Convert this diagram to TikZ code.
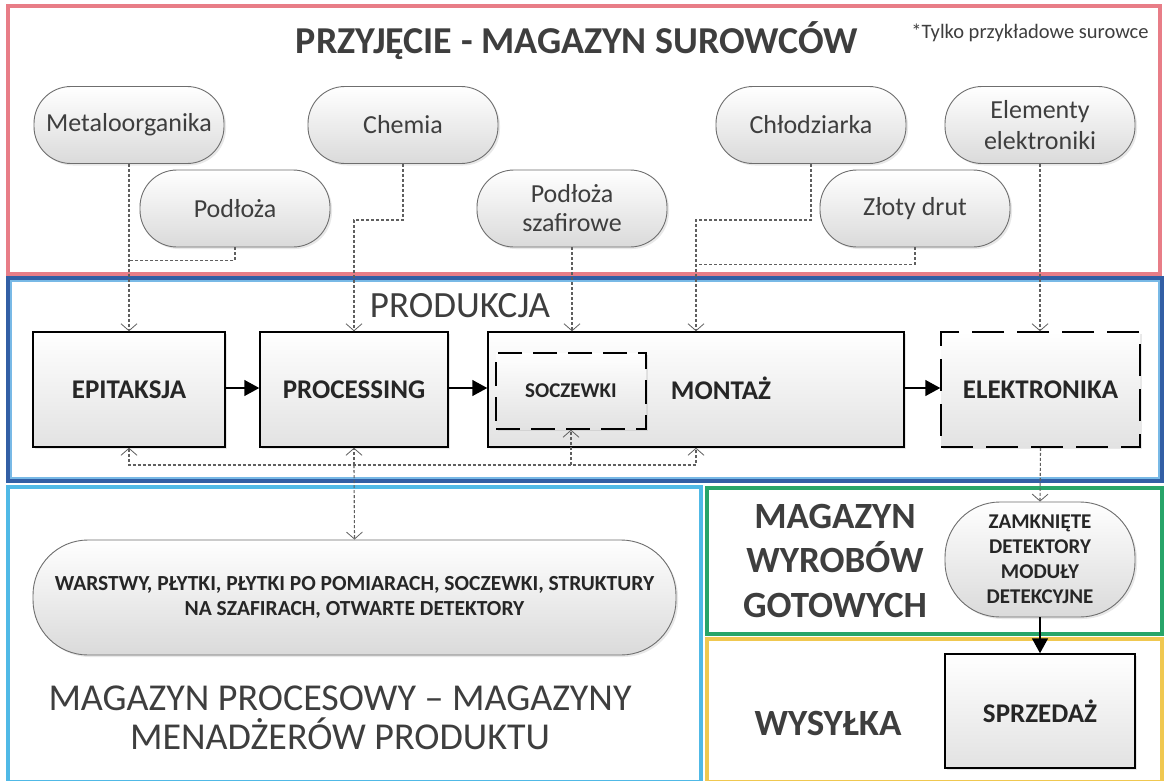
\documentclass[tikz,border=0pt]{standalone}
\usepackage{fontspec}
\setmainfont{Carlito}
\usetikzlibrary{arrows.meta,shadows,calc}

\definecolor{pillline}{RGB}{110,110,110}
\definecolor{pillbot}{RGB}{218,218,218}
\definecolor{boxbot}{RGB}{226,226,226}
\definecolor{titlegray}{RGB}{62,62,62}
\definecolor{boxtext}{RGB}{38,38,38}
\definecolor{linkgray}{RGB}{95,95,95}
\definecolor{framered}{RGB}{232,125,135}
\definecolor{frameblue}{RGB}{50,95,165}
\definecolor{frameblueIn}{RGB}{120,185,230}
\definecolor{framecyan}{RGB}{80,185,230}
\definecolor{framegreen}{RGB}{40,165,105}
\definecolor{frameyellow}{RGB}{240,200,80}

\tikzset{
  frame/.style={line width=3.5pt},
  pill/.style={draw=pillline, line width=0.9pt, rounded corners=37pt,
    top color=white, bottom color=pillbot,
    minimum width=190pt, minimum height=77pt, align=center,
    text=titlegray, font=\fontsize{26}{31}\selectfont,
    drop shadow={shadow xshift=2pt, shadow yshift=-2pt, opacity=0.18}},
  stagebox/.style={draw=black, line width=1.5pt,
    top color=white, bottom color=boxbot,
    minimum height=115pt, align=center,
    font=\bfseries\fontsize{27}{32}\selectfont, text=boxtext,
    drop shadow={shadow xshift=2pt, shadow yshift=-2pt, opacity=0.18}},
  dashbox/.style={stagebox, dash pattern=on 32pt off 13pt},
  link/.style={draw=linkgray, line width=1.1pt, dash pattern=on 3pt off 2pt},
  feed/.style={link, -{Straight Barb[length=7pt, width=16pt, line width=0.8pt]}},
  flow/.style={draw=black, line width=1.5pt, -{Triangle[length=15pt, width=16pt]}},
  title/.style={text=titlegray, anchor=base, inner sep=0pt},
}

\begin{document}
\begin{tikzpicture}[x=1pt, y=-1pt]
\useasboundingbox (0,0) rectangle (1167,780);
\fill[white] (0,0) rectangle (1167,780);

% section frames
\draw[frame, draw=framered] (8,6) rectangle (1160,274);
\draw[frame, draw=frameblue] (8,278) rectangle (1162,481);
\draw[line width=1.2pt, draw=frameblueIn] (11,281) rectangle (1159,478);
\draw[frame, draw=framecyan] (8,487) rectangle (701,782);
\draw[frame, draw=framegreen] (707,488) rectangle (1162,634);
\draw[frame, draw=frameyellow] (707,639) rectangle (1162,782);

% section titles
\node[title, font=\bfseries\fontsize{38}{44}\selectfont] (tRaw) at (577,53) {PRZYJĘCIE - MAGAZYN SUROWCÓW};
\node[title, font=\fontsize{20.5}{24}\selectfont] (tNote) at (1030,38) {*Tylko przykładowe surowce};
\node[title, font=\fontsize{37}{44}\selectfont] (tProd) at (460,317) {PRODUKCJA};
\node[title, font=\fontsize{38}{44}\selectfont] (tProcA) at (340,710) {MAGAZYN PROCESOWY – MAGAZYNY};
\node[title, font=\fontsize{38}{44}\selectfont] (tProcB) at (340,749) {MENADŻERÓW PRODUKTU};
\node[title, font=\bfseries\fontsize{37}{44}\selectfont] (tGoodA) at (835,528) {MAGAZYN};
\node[title, font=\bfseries\fontsize{37}{44}\selectfont] (tGoodB) at (835,572) {WYROBÓW};
\node[title, font=\bfseries\fontsize{37}{44}\selectfont] (tGoodC) at (835,617) {GOTOWYCH};
\node[title, font=\bfseries\fontsize{37}{44}\selectfont] (tShip) at (828,735) {WYSYŁKA};

% raw materials
\node[pill] (meta) at (129,125) {Metaloorganika};
\node[pill] (chem) at (403,125) {Chemia};
\node[pill] (chl)  at (811,125) {Chłodziarka};
\node[pill, font=\fontsize{26}{31}\selectfont] (elem) at (1040,125) {Elementy\\elektroniki};
\node[pill] (pod)  at (235,208.5) {Podłoża};
\node[pill, font=\fontsize{26}{29}\selectfont] (szaf) at (572,208.5) {Podłoża\\szafirowe};
\node[pill] (zloty) at (915,208.5) {Złoty drut};

% production stages
\node[stagebox, minimum width=192pt] (epi)  at (129,389.5) {EPITAKSJA};
\node[stagebox, minimum width=188pt] (proc) at (354,389.5) {PROCESSING};
\node[stagebox, minimum width=416pt] (mont) at (696,389.5) {};
\node[dashbox, minimum width=150pt, minimum height=76pt, dash pattern=on 24pt off 11pt,
      font=\bfseries\fontsize{21}{25}\selectfont] (socz) at (571,391) {SOCZEWKI};
\node[font=\bfseries\fontsize{27}{32}\selectfont, text=boxtext] (montT) at (721,388) {MONTAŻ};
\node[dashbox, minimum width=199pt] (elek) at (1040.5,389.5) {ELEKTRONIKA};

% stores
\node[pill, rounded corners=55pt, minimum width=643pt, minimum height=115pt,
      font=\bfseries\fontsize{21.5}{25}\selectfont, text=boxtext] (warst) at (354.5,597.5)
      {WARSTWY, PŁYTKI, PŁYTKI PO POMIARACH, SOCZEWKI, STRUKTURY\\NA SZAFIRACH, OTWARTE DETEKTORY};
\node[pill, rounded corners=55pt, minimum height=115pt,
      font=\bfseries\fontsize{21}{25}\selectfont, text=boxtext] (zamk) at (1040,559.5)
      {ZAMKNIĘTE\\DETEKTORY\\MODUŁY\\DETEKCYJNE};
\node[stagebox, minimum width=190pt, minimum height=114pt] (sprz) at (1040,711) {SPRZEDAŻ};

% supply lines (junctions where two supplies merge)
\coordinate (mj) at ($(meta.south)+(0,96.5)$);
\coordinate (zj) at ($(mont.north)+(0,-67)$);
\draw[feed] (meta.south) -- (meta.south |- epi.north);
\draw[link] (pod.south) |- (mj);
\draw[feed] (chem.south) -- ++(0,56) -| (proc.north);
\draw[feed] (szaf.south) -- (szaf.south |- mont.north);
\draw[feed] (chl.south) -- ++(0,56) -| (mont.north);
\draw[link] (zloty.south) |- (zj);
\draw[feed] (elem.south) -- (elem.south |- elek.north);

% main flow
\draw[flow] (epi.east |- 0,388) -- (proc.west |- 0,388);
\draw[flow] (proc.east |- 0,388) -- (mont.west |- 0,388);
\draw[flow] (mont.east |- 0,388) -- (elek.west |- 0,388);

% return lines to the process store
\coordinate (bus) at (0,465);
\draw[link, {Straight Barb[length=7pt, width=16pt, line width=0.8pt]}-{Straight Barb[length=7pt, width=16pt, line width=0.8pt]}]
  (epi.south) -- (epi.south |- bus) -- (mont.south |- bus) -- (mont.south);
\draw[feed] (socz.south |- bus) -- (socz.south);
\draw[feed] (proc.south |- bus) -- (proc.south);
\draw[feed] (proc.south |- bus) -- (warst.north);

% finished goods
\draw[feed] (elek.south) -- (zamk.north);
\draw[flow] (zamk.south) -- (sprz.north);
\end{tikzpicture}
\end{document}
